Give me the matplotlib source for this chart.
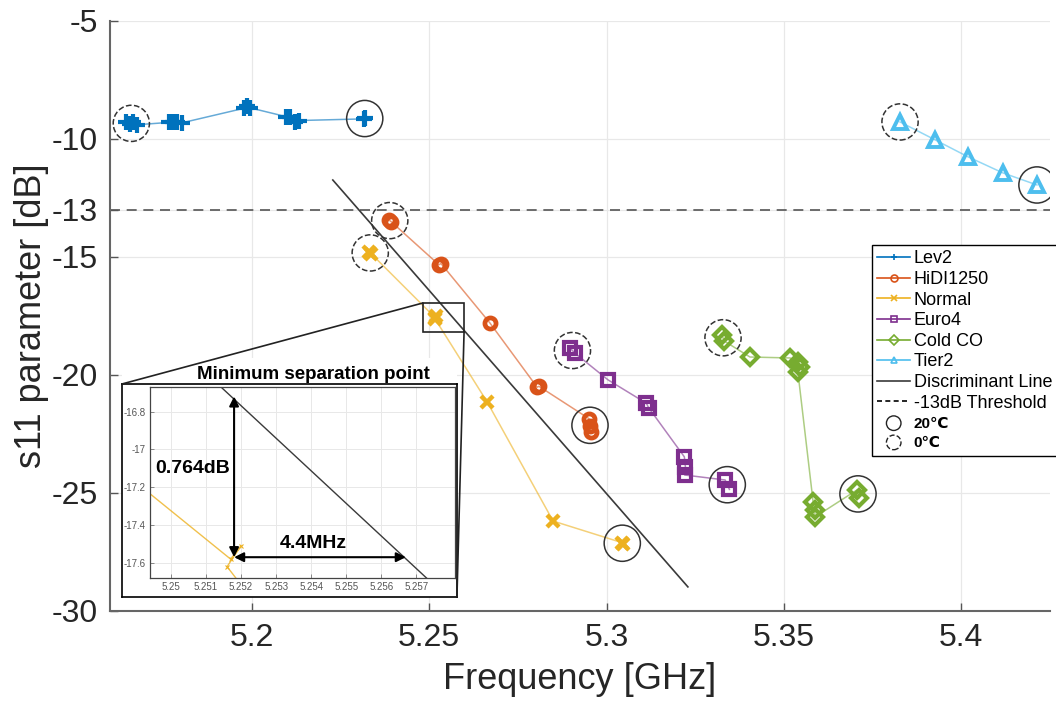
import numpy as np
import matplotlib
matplotlib.use('Agg')
import matplotlib.pyplot as plt
from matplotlib.lines import Line2D
from matplotlib.patches import Rectangle, ConnectionPatch

plt.rcParams['font.family'] = ['Liberation Sans', 'DejaVu Sans']

# values: frequency [GHz] / s11 [dB]
lev2_f = [5.1645, 5.1655, 5.1665, 5.1675, 5.1766, 5.1778, 5.1790, 5.1802,
          5.1978, 5.1986, 5.1994, 5.2095, 5.2108, 5.2122, 5.2133, 5.2316, 5.2320]
lev2_v = [-9.30, -9.38, -9.28, -9.40, -9.30, -9.28, -9.30, -9.32,
          -8.70, -8.62, -8.68, -9.05, -9.08, -9.30, -9.22, -9.15, -9.12]

hidi_f = [5.2385, 5.2392, 5.2527, 5.2533, 5.2671, 5.2804, 5.2809, 5.2950, 5.2953, 5.2956]
hidi_v = [-13.42, -13.50, -15.33, -15.28, -17.80, -20.52, -20.48, -21.85, -22.15, -22.40]

normal_f = [5.2331, 5.2336, 5.2517, 5.2520, 5.2516, 5.2663, 5.2849, 5.3042, 5.3046]
normal_v = [-14.80, -14.86, -17.58, -17.51, -17.62, -21.14, -26.19, -27.10, -27.16]

euro_f = [5.2897, 5.2910, 5.3004, 5.3112, 5.3118, 5.3219, 5.3222, 5.3220, 5.3334, 5.3346]
euro_v = [-18.86, -19.07, -20.21, -21.20, -21.38, -23.47, -23.90, -24.24, -24.45, -24.85]

cold_f = [5.3326, 5.3330, 5.3404, 5.3517, 5.3539, 5.3545, 5.3539,
          5.3582, 5.3587, 5.3587, 5.3706, 5.3711]
cold_v = [-18.30, -18.55, -19.24, -19.28, -19.45, -19.66, -19.87,
          -25.38, -25.72, -26.02, -24.87, -25.21]

tier2_f = [5.3827, 5.3926, 5.4019, 5.4117, 5.4213]
tier2_v = [-9.28, -10.04, -10.76, -11.44, -11.95]

names = ['Lev2', 'HiDI1250', 'Normal', 'Euro4', 'Cold CO', 'Tier2']
colors = ['#0072BD', '#D95319', '#EDB120', '#7E2F8E', '#77AC30', '#4DBEEE']
markers = ['+', 'o', 'x', 's', 'D', '^']
msizes = [12, 8, 9, 9, 8, 10]
medges = [3.0, 3.4, 3.2, 3.0, 3.0, 2.8]
freqs = [lev2_f, hidi_f, normal_f, euro_f, cold_f, tier2_f]
s11 = [lev2_v, hidi_v, normal_v, euro_v, cold_v, tier2_v]

disc_f = [5.2228, 5.3229]
disc_v = [-11.74, -28.98]
threshold = -13

xticks = [5.2, 5.25, 5.3, 5.35, 5.4]
xlabels = ['5.2', '5.25', '5.3', '5.35', '5.4']
yticks = [-30, -25, -20, -15, -13, -10, -5]
ylabels = ['-30', '-25', '-20', '-15', '-13', '-10', '-5']

in_xticks = [5.25, 5.251, 5.252, 5.253, 5.254, 5.255, 5.256, 5.257]
in_xlabels = ['5.25', '5.251', '5.252', '5.253', '5.254', '5.255', '5.256', '5.257']
in_yticks = [-17.6, -17.4, -17.2, -17.0, -16.8]
in_ylabels = ['-17.6', '-17.4', '-17.2', '-17', '-16.8']


def cluster_mean(f, v, first=True, tol=0.0035):
    f = np.asarray(f)
    v = np.asarray(v)
    ref = f[0] if first else f[-1]
    m = np.abs(f - ref) < tol
    return f[m].mean(), v[m].mean()


fig = plt.figure(figsize=(10.56, 7.12), dpi=100)
ax = fig.add_axes([0.1042, 0.1419, 0.8902, 0.8287])

for f, v, c, m, ms, mw in zip(freqs, s11, colors, markers, msizes, medges):
    ax.plot(f, v, '-', color=c, lw=1.1, alpha=0.6, zorder=2)
    ax.plot(f, v, ls='none', marker=m, ms=ms, mec=c, mfc='none', mew=mw, zorder=3)
    for first, ls in [(True, '--'), (False, '-')]:
        cf, cv = cluster_mean(f, v, first)
        ax.scatter([cf], [cv], s=680, facecolors='none', edgecolors='#333333',
                   linewidths=1.1, linestyle=ls, zorder=4)

ax.plot(disc_f, disc_v, color='#3a3a3a', lw=1.2, zorder=2)
ax.axhline(threshold, color='#555555', lw=1.2, ls=(0, (6, 4)), zorder=1)

ax.set_xlim(5.16, 5.425)
ax.set_ylim(-30, -5)
ax.set_xticks(xticks)
ax.set_xticklabels(xlabels)
ax.set_yticks(yticks)
ax.set_yticklabels(ylabels)
ax.tick_params(direction='in', length=6, width=1, labelsize=23, pad=9,
               labelcolor='#262626', color='#555555')
ax.grid(True, color='#e8e8e8', lw=0.9)
ax.set_axisbelow(True)
for s in ['top', 'right']:
    ax.spines[s].set_visible(False)
for s in ['left', 'bottom']:
    ax.spines[s].set_color('#666666')
    ax.spines[s].set_linewidth(1.5)
ax.set_xlabel('Frequency [GHz]', fontsize=26, color='#262626', labelpad=6)
ax.set_ylabel('s11 parameter [dB]', fontsize=26, color='#262626', labelpad=2)

# zoom box on the main plot
ax.add_patch(Rectangle((5.2482, -18.18), 0.0116, 1.23, fill=False,
                       ec='#222222', lw=1.2, zorder=5))

# legend
handles = [Line2D([], [], color=c, marker=m, ms=5, mfc='none', mew=1.2, lw=1.2)
           for c, m in zip(colors, markers)]
handles += [Line2D([], [], color='#3a3a3a', lw=1.2),
            Line2D([], [], color='black', lw=1.2, ls=(0, (3, 2))),
            ax.scatter([], [], s=110, facecolors='none', edgecolors='#222222', linewidths=1),
            ax.scatter([], [], s=110, facecolors='none', edgecolors='#222222', linewidths=1,
                       linestyle='--')]
labels = names + ['Discriminant Line', '-13dB Threshold', '20℃', '0℃']
leg = ax.legend(handles, labels, loc='upper left', bbox_to_anchor=(0.8106, 0.6203),
                fontsize=13, frameon=True, fancybox=False, edgecolor='black',
                framealpha=1, borderpad=0.3, labelspacing=0.2, handlelength=1.8,
                handletextpad=0.2, borderaxespad=0)
leg.get_frame().set_linewidth(1.0)
for t in leg.get_texts()[-2:]:
    t.set_fontweight('bold')
    t.set_fontsize(11)

# inset
cover = Rectangle((0.1155, 1 - 384 / 712), 0.3172, 26 / 712, transform=fig.transFigure,
                  fc='white', ec='none', zorder=1)
fig.patches.append(cover)

fr = fig.add_axes([0.1155, 0.1615, 0.3172, 0.2992], zorder=2)
fr.set_xticks([])
fr.set_yticks([])
for s in fr.spines.values():
    s.set_color('black')
    s.set_linewidth(1.2)

inn = fig.add_axes([0.1420, 0.1882, 0.2888, 0.2683], zorder=3)
inn.plot(normal_f, normal_v, '-', color=colors[2], lw=1.0, alpha=0.8)
inn.plot(normal_f, normal_v, ls='none', marker='x', ms=3, mec=colors[2], mew=0.8)
inn.plot(disc_f, disc_v, color='#3a3a3a', lw=1.0)
inn.set_xlim(5.2494, 5.2581)
inn.set_ylim(-17.68, -16.67)
inn.set_xticks(in_xticks)
inn.set_xticklabels(in_xlabels)
inn.set_yticks(in_yticks)
inn.set_yticklabels(in_ylabels)
inn.tick_params(direction='in', length=3, width=0.6, labelsize=7, pad=3,
                labelcolor='#555555', color='#777777')
inn.grid(True, color='#e8e8e8', lw=0.7)
inn.set_axisbelow(True)
for s in inn.spines.values():
    s.set_color('#444444')
    s.set_linewidth(0.9)

arrow = dict(arrowstyle='<|-|>', color='black', lw=1.5, mutation_scale=14,
             shrinkA=0, shrinkB=0)
inn.annotate('', xy=(5.2518, -16.72), xytext=(5.2518, -17.57), arrowprops=arrow)
inn.annotate('', xy=(5.2567, -17.57), xytext=(5.2518, -17.57), arrowprops=arrow)
inn.text(5.24954, -17.10, '0.764dB', fontsize=14, fontweight='bold', ha='left', va='center')
inn.text(5.25405, -17.50, '4.4MHz', fontsize=14, fontweight='bold', ha='center', va='center')

fig.text(0.2964, 0.4740, 'Minimum separation point', fontsize=13.5, fontweight='bold',
         ha='center', va='center', zorder=5)

for xyA, xyB in [((5.2482, -16.95), (0, 1)), ((5.2598, -18.18), (1, 0))]:
    con = ConnectionPatch(xyA=xyA, coordsA=ax.transData, xyB=xyB, coordsB=fr.transAxes,
                          color='#222222', lw=1.2, zorder=4)
    fig.add_artist(con)

fig.savefig('out.png', dpi=100)
